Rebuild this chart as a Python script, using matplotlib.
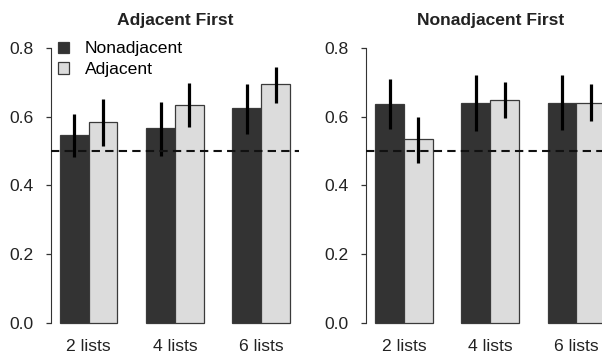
import numpy as np
import matplotlib.pyplot as plt
from matplotlib.patches import Patch

plt.rcParams['font.family'] = ['Liberation Sans', 'DejaVu Sans']

# data
groups = ['2 lists', '4 lists', '6 lists']
series = ['Nonadjacent', 'Adjacent']
colors = ['#333333', '#dcdcdc']

titles = ['Adjacent First', 'Nonadjacent First']
# means [panel][series][group]
means = [
    [[0.547, 0.566, 0.624], [0.584, 0.634, 0.694]],
    [[0.636, 0.641, 0.641], [0.534, 0.649, 0.641]],
]
lo = [
    [[0.483, 0.486, 0.549], [0.515, 0.569, 0.639]],
    [[0.563, 0.559, 0.561], [0.464, 0.595, 0.588]],
]
hi = [
    [[0.607, 0.642, 0.694], [0.651, 0.699, 0.745]],
    [[0.711, 0.720, 0.720], [0.600, 0.701, 0.694]],
]
chance = 0.5

fig = plt.figure(figsize=(6.02, 3.57), dpi=100)
W, H = 602, 357
ax_lefts = [50.8, 366.0]
ax_w = 248.4
ax_top, ax_bot = 37.0, 333.7

fs = 12.6
for p in range(2):
    ax = fig.add_axes([ax_lefts[p] / W, (H - ax_bot) / H, ax_w / W, (ax_bot - ax_top) / H])
    for s in range(2):
        x = np.arange(3) * 3 + 1.5 + s
        ax.bar(x, means[p][s], width=1.0, color=colors[s], edgecolor='#3a3a3a',
               linewidth=0.9, zorder=2)
        ax.vlines(x, lo[p][s], hi[p][s], color='black', linewidth=2.3, zorder=3)
    ax.axhline(chance, color='#111111', linewidth=1.5, dashes=(4, 2.5), zorder=4)
    ax.set_xlim(0.68, 9.32)
    ax.set_ylim(-0.032, 0.832)
    for side in ['top', 'right', 'bottom']:
        ax.spines[side].set_visible(False)
    ax.spines['left'].set_bounds(0, 0.8)
    ax.spines['left'].set_color('#333333')
    ax.set_yticks([0.0, 0.2, 0.4, 0.6, 0.8])
    ax.set_yticklabels(['0.0', '0.2', '0.4', '0.6', '0.8'], fontsize=fs, color='#222222')
    ax.tick_params(axis='y', direction='out', length=3.5, width=0.9, color='#333333', pad=9)
    ax.set_xticks(np.arange(3) * 3 + 2)
    ax.set_xticklabels(groups, fontsize=fs, color='#222222')
    ax.tick_params(axis='x', length=0, pad=4)
    ax.set_title(titles[p], fontsize=fs, fontweight='bold', pad=9, color='#222222')
    if p == 0:
        handles = [Patch(facecolor=colors[i], edgecolor='#3a3a3a', linewidth=0.9,
                         label=series[i]) for i in range(2)]
        ax.legend(handles=handles, loc='upper left', bbox_to_anchor=(0.03, 0.985),
                  frameon=False, fontsize=fs, borderpad=0, borderaxespad=0,
                  handlelength=0.63, handleheight=0.63, handletextpad=0.9,
                  labelspacing=0.32)

fig.savefig('out.png', dpi=100)
